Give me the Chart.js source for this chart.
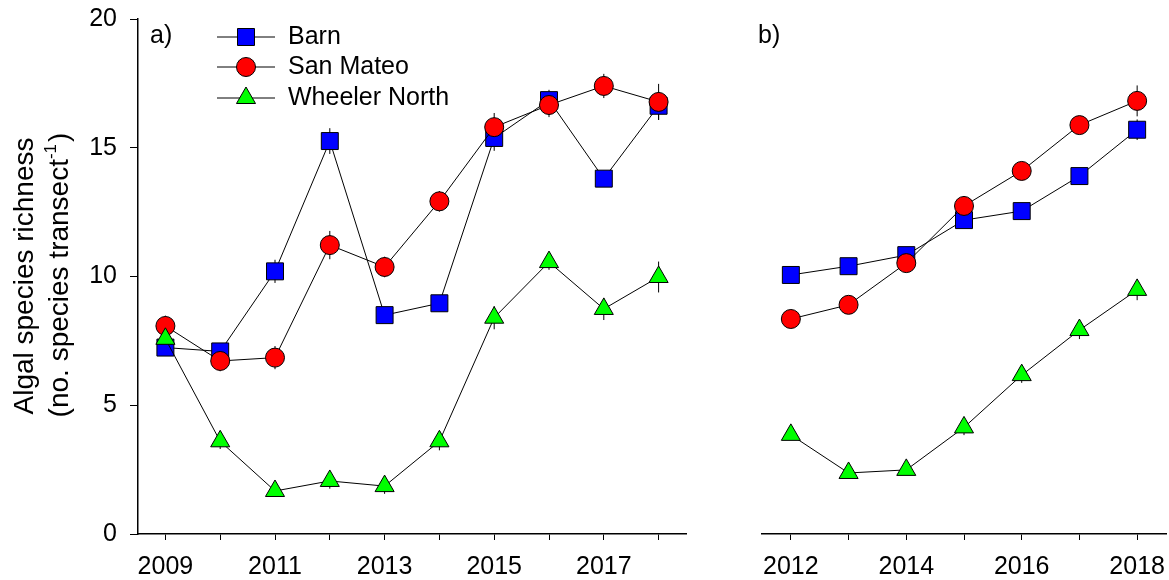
<!DOCTYPE html>
<html>
<head>
<meta charset="utf-8">
<script src="https://cdn.jsdelivr.net/npm/chart.js@4"></script>
<style>
  body { margin: 0; background: #fff; }
  #wrap { position: relative; width: 1169px; height: 580px; }
  #chartA { position: absolute; left: 0; top: 0; }
  #chartB { position: absolute; left: 700px; top: 0; }
</style>
</head>
<body>
<div id="wrap">
  <canvas id="chartA" width="700" height="580"></canvas>
  <canvas id="chartB" width="469" height="580"></canvas>
</div>
<script>
// panel a) 2009-2018
const yearsA = [2009, 2010, 2011, 2012, 2013, 2014, 2015, 2016, 2017, 2018];
const barnA = [7.24, 7.09, 10.2, 15.26, 8.5, 8.96, 15.38, 16.85, 13.8, 16.63];
const barnA_se = [0.3, 0.3, 0.45, 0.5, 0.3, 0.3, 0.5, 0.4, 0.3, 0.55];
const sanMateoA = [8.08, 6.72, 6.85, 11.22, 10.37, 12.92, 15.8, 16.66, 17.4, 16.78];
const sanMateoA_se = [0.4, 0.4, 0.45, 0.55, 0.4, 0.4, 0.55, 0.47, 0.47, 0.7];
const wheelerA = [7.58, 3.6, 1.67, 2.06, 1.86, 3.6, 8.4, 10.56, 8.74, 9.98];
const wheelerA_se = [0.3, 0.3, 0.2, 0.3, 0.3, 0.35, 0.45, 0.3, 0.43, 0.6];

// panel b) 2012-2018
const yearsB = [2012, 2013, 2014, 2015, 2016, 2017, 2018];
const barnB = [10.06, 10.4, 10.83, 12.19, 12.54, 13.9, 15.7];
const barnB_se = [0.2, 0.2, 0.2, 0.25, 0.25, 0.3, 0.4];
const sanMateoB = [8.35, 8.9, 10.52, 12.74, 14.1, 15.88, 16.82];
const sanMateoB_se = [0.2, 0.2, 0.25, 0.3, 0.3, 0.35, 0.6];
const wheelerB = [3.85, 2.37, 2.49, 4.14, 6.17, 7.92, 9.48];
const wheelerB_se = [0.2, 0.2, 0.2, 0.3, 0.3, 0.35, 0.4];

const siteNames = ["Barn", "San Mateo", "Wheeler North"];
const yTicks = [0, 5, 10, 15, 20];

const FONT = "Arial, 'Liberation Sans', sans-serif";

function pts(xs, ys) {
  return xs.map((x, i) => ({ x: x, y: ys[i] }));
}

// order: Wheeler North drawn on top, Barn at the bottom
function makeSets(xs, b, s, w, bse, sse, wse) {
  const base = { borderColor: "#000", borderWidth: 1, pointBorderColor: "#000",
                 pointBorderWidth: 1, pointHoverRadius: 0, tension: 0 };
  return [
    Object.assign({}, base, { label: siteNames[0], data: pts(xs, b), se: bse, order: 3,
      pointStyle: "rect", pointRadius: 12, pointBackgroundColor: "#0000ff" }),
    Object.assign({}, base, { label: siteNames[1], data: pts(xs, s), se: sse, order: 2,
      pointStyle: "circle", pointRadius: 9.5, pointBackgroundColor: "#ff0000" }),
    Object.assign({}, base, { label: siteNames[2], data: pts(xs, w), se: wse, order: 1,
      pointStyle: "triangle", pointRadius: 11, pointBackgroundColor: "#00ff00" })
  ];
}

// vertical error bars, drawn under the markers
const errorBars = {
  id: "errorBars",
  beforeDatasetsDraw(chart) {
    const ctx = chart.ctx, xs = chart.scales.x, ys = chart.scales.y;
    ctx.save();
    ctx.strokeStyle = "#000";
    ctx.lineWidth = 1;
    chart.data.datasets.forEach(ds => {
      ds.data.forEach((p, i) => {
        const px = xs.getPixelForValue(p.x);
        ctx.beginPath();
        ctx.moveTo(px, ys.getPixelForValue(p.y - ds.se[i]));
        ctx.lineTo(px, ys.getPixelForValue(p.y + ds.se[i]));
        ctx.stroke();
      });
    });
    ctx.restore();
  }
};

// panel letter and optional legend / y title
function decorations(letter, lx, withLegend) {
  return {
    id: "deco",
    afterDraw(chart) {
      const ctx = chart.ctx;
      ctx.save();
      ctx.fillStyle = "#000";
      ctx.font = "25px " + FONT;
      ctx.textBaseline = "middle";
      ctx.textAlign = "left";
      ctx.fillText(letter, lx, 36);
      if (withLegend) {
        const rows = [37, 67, 98];
        chart.data.datasets.forEach((ds, i) => {
          const y = rows[i];
          ctx.strokeStyle = "#000";
          ctx.lineWidth = 1;
          ctx.beginPath();
          ctx.moveTo(217, y);
          ctx.lineTo(275, y);
          ctx.stroke();
          ctx.fillStyle = ds.pointBackgroundColor;
          ctx.strokeStyle = "#000";
          Chart.helpers.drawPoint(ctx, {
            pointStyle: ds.pointStyle, radius: ds.pointRadius, borderWidth: 1
          }, 246, y);
          ctx.fillStyle = "#000";
          ctx.fillText(ds.label, 288, y);
        });
        // y axis title, two lines with a superscript
        ctx.translate(0, 276);
        ctx.rotate(-Math.PI / 2);
        ctx.textBaseline = "alphabetic";
        ctx.textAlign = "center";
        ctx.font = "28px " + FONT;
        ctx.fillText("Algal species richness", 0, 33);
        const main = "(no. species transect";
        const sup = "-1";
        const tail = ")";
        const wMain = ctx.measureText(main).width;
        const wTail = ctx.measureText(tail).width;
        ctx.font = "17px " + FONT;
        const wSup = ctx.measureText(sup).width;
        const x0 = -(wMain + wSup + wTail) / 2;
        ctx.textAlign = "left";
        ctx.font = "28px " + FONT;
        ctx.fillText(main, x0, 68);
        ctx.font = "17px " + FONT;
        ctx.fillText(sup, x0 + wMain, 56);
        ctx.font = "28px " + FONT;
        ctx.fillText(tail, x0 + wMain + wSup + 2, 68);
      }
      ctx.restore();
    }
  };
}

function xAxis(years, first) {
  return {
    type: "linear",
    min: years[0] - 0.5,
    max: years[years.length - 1] + 0.5,
    afterBuildTicks: s => { s.ticks = years.map(v => ({ value: v })); },
    afterFit: s => { s.height = 46; s.paddingLeft = 0; s.paddingRight = 0; },
    grid: { display: true, drawOnChartArea: false, drawTicks: true, tickLength: 6,
            color: "#000", lineWidth: 1 },
    border: { display: true, color: "#000", width: 1.5 },
    ticks: {
      color: "#000", font: { family: FONT, size: 25 }, padding: 12, maxRotation: 0,
      autoSkip: false,
      callback: v => ((v - first) % 2 === 0 ? String(v) : "")
    }
  };
}

function makeChart(id, xs, sets, first, showY, pad, deco) {
  new Chart(document.getElementById(id), {
    type: "line",
    data: { datasets: sets },
    options: {
      responsive: false,
      animation: false,
      layout: { padding: pad, autoPadding: false },
      plugins: { legend: { display: false }, tooltip: { enabled: false } },
      scales: {
        x: xAxis(xs, first),
        y: {
          type: "linear", min: 0, max: 20, display: showY,
          afterBuildTicks: s => { s.ticks = yTicks.map(v => ({ value: v })); },
          afterFit: s => {
            s.width = showY ? 138 : 0;
            s.paddingTop = 0;
            s.paddingBottom = 0;
          },
          grid: { display: true, drawOnChartArea: false, drawTicks: true, tickLength: 8,
                  color: "#000", lineWidth: 1 },
          border: { display: true, color: "#000", width: 1.5 },
          ticks: { color: "#000", font: { family: FONT, size: 25 }, padding: 13 }
        }
      }
    },
    plugins: [errorBars, deco]
  });
}

makeChart("chartA", yearsA,
  makeSets(yearsA, barnA, sanMateoA, wheelerA, barnA_se, sanMateoA_se, wheelerA_se),
  2009, true, { top: 19, right: 14, left: 0, bottom: 0 }, decorations("a)", 150, true));

makeChart("chartB", yearsB,
  makeSets(yearsB, barnB, sanMateoB, wheelerB, barnB_se, sanMateoB_se, wheelerB_se),
  2012, false, { top: 19, right: 3, left: 62, bottom: 0 }, decorations("b)", 58, false));
</script>
</body>
</html>
